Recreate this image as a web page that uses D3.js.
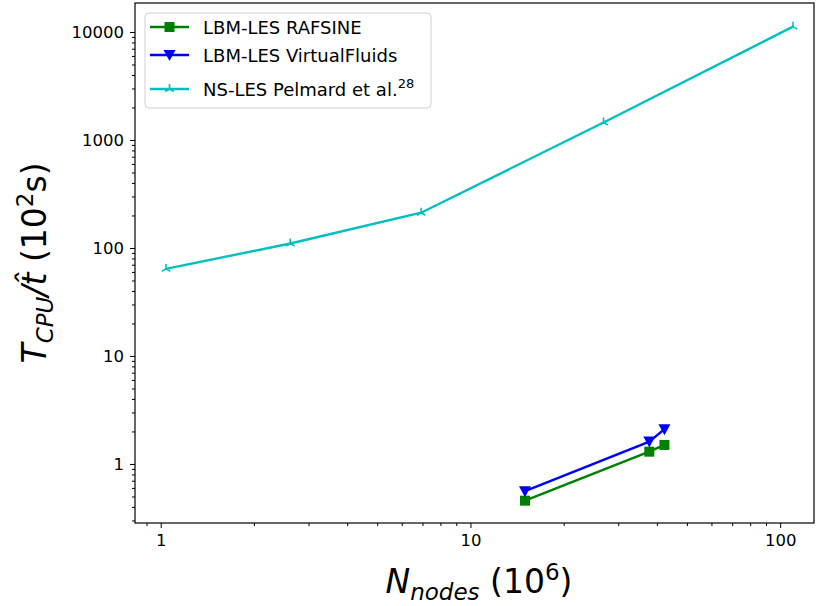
<!DOCTYPE html>
<html><head><meta charset="utf-8">
<script src="https://cdn.jsdelivr.net/npm/d3@7"></script>
<style>body{margin:0;background:#fff}svg{display:block}text{font-family:"DejaVu Sans",sans-serif}</style>
</head><body><svg id="c" width="816" height="606"></svg>
<script>
const seriesNames = ["LBM-LES RAFSINE", "LBM-LES VirtualFluids", "NS-LES Pelmard et al."];
const rafsineX = [15.0, 37.8, 42.3];
const rafsineY = [0.457, 1.30, 1.50];
const vfX = [15.0, 37.8, 42.3];
const vfY = [0.56, 1.61, 2.10];
const nsX = [1.04, 2.62, 6.93, 26.9, 110];
const nsY = [64, 110, 212, 1450, 11200];
const xTicks = [1, 10, 100];
const yTicks = [1, 10, 100, 1000, 10000];

const svg = d3.select("#c");
const L = 135, R = 814, T = 3, B = 523;
const x = d3.scaleLog().domain([0.826, 128.6]).range([L, R]);
const y = d3.scaleLog().domain([0.284, 18550]).range([B, T]);

function minorTicks(dom) {
  const out = [];
  for (let e = -2; e <= 5; e++) for (let k = 2; k <= 9; k++) {
    const v = k * Math.pow(10, e);
    if (v >= dom[0] && v <= dom[1]) out.push(v);
  }
  return out;
}

svg.append("g").attr("transform", `translate(0,${B})`)
  .call(d3.axisBottom(x).tickValues(minorTicks(x.domain())).tickSize(3).tickFormat(""))
  .call(g => g.select(".domain").remove());
svg.append("g").attr("transform", `translate(${L},0)`)
  .call(d3.axisLeft(y).tickValues(minorTicks(y.domain())).tickSize(3).tickFormat(""))
  .call(g => g.select(".domain").remove());
svg.append("g").attr("transform", `translate(0,${B})`)
  .call(d3.axisBottom(x).tickValues(xTicks).tickSize(5).tickPadding(6).tickFormat(d3.format("d")))
  .call(g => g.select(".domain").remove())
  .call(g => g.selectAll("text").attr("font-size", 16.5).attr("fill", "#000").attr("font-family", "DejaVu Sans"));
svg.append("g").attr("transform", `translate(${L},0)`)
  .call(d3.axisLeft(y).tickValues(yTicks).tickSize(5).tickPadding(6).tickFormat(d3.format("d")))
  .call(g => g.select(".domain").remove())
  .call(g => g.selectAll("text").attr("font-size", 16.5).attr("fill", "#000").attr("font-family", "DejaVu Sans"));
svg.selectAll(".tick line").attr("stroke", "#000").attr("stroke-width", 1);

svg.append("rect").attr("x", L).attr("y", T).attr("width", R - L).attr("height", B - T)
  .attr("fill", "none").attr("stroke", "#000").attr("stroke-width", 1.2);

const line = d3.line().x(d => x(d[0])).y(d => y(d[1]));
const plotG = svg.append("g");
function drawSeries(xs, ys, color, marker) {
  const pts = xs.map((v, i) => [v, ys[i]]);
  plotG.append("path").datum(pts).attr("d", line).attr("fill", "none")
    .attr("stroke", color).attr("stroke-width", 2.4);
  pts.forEach(p => drawMarker(plotG, x(p[0]), y(p[1]), color, marker));
}
function drawMarker(g, cx, cy, color, marker) {
  if (marker === "s") {
    g.append("rect").attr("x", cx - 5).attr("y", cy - 5).attr("width", 10).attr("height", 10).attr("fill", color);
  } else if (marker === "v") {
    g.append("path").attr("d", `M${cx - 6},${cy - 5}L${cx + 6},${cy - 5}L${cx},${cy + 6}Z`).attr("fill", color);
  } else {
    const r = 5;
    g.append("path").attr("d",
      `M${cx},${cy}L${cx},${cy - r}M${cx},${cy}L${cx - r * 0.866},${cy + r * 0.5}M${cx},${cy}L${cx + r * 0.866},${cy + r * 0.5}`)
      .attr("stroke", color).attr("stroke-width", 1.6).attr("fill", "none");
  }
}
drawSeries(nsX, nsY, "#00bfbf", "2");
drawSeries(rafsineX, rafsineY, "#008000", "s");
drawSeries(vfX, vfY, "#0000ff", "v");

const lg = svg.append("g");
lg.append("rect").attr("x", 145).attr("y", 13).attr("width", 286).attr("height", 95).attr("rx", 4)
  .attr("fill", "#fff").attr("fill-opacity", 0.8).attr("stroke", "#d0d0d0").attr("stroke-width", 1);
const legendItems = [
  {name: seriesNames[0], color: "#008000", marker: "s", yy: 27, sup: null},
  {name: seriesNames[1], color: "#0000ff", marker: "v", yy: 55, sup: null},
  {name: seriesNames[2], color: "#00bfbf", marker: "2", yy: 89, sup: "28"}
];
legendItems.forEach(it => {
  lg.append("line").attr("x1", 150).attr("x2", 189).attr("y1", it.yy).attr("y2", it.yy)
    .attr("stroke", it.color).attr("stroke-width", 2.4);
  drawMarker(lg, 169.5, it.yy, it.color, it.marker);
  const t = lg.append("text").attr("x", 203).attr("y", it.yy + 6.5).attr("font-size", 18).attr("fill", "#000").text(it.name);
  if (it.sup) t.append("tspan").attr("dy", -8).attr("font-size", 13).text(it.sup);
});

const xl = svg.append("text").attr("x", 479).attr("y", 593).attr("text-anchor", "middle")
  .attr("font-size", 33).attr("fill", "#000");
xl.append("tspan").attr("font-style", "italic").text("N");
xl.append("tspan").attr("font-style", "italic").attr("font-size", 23).attr("dy", 7).text("nodes");
xl.append("tspan").attr("dy", -7).text(" (10");
xl.append("tspan").attr("font-size", 23).attr("dy", -13).text("6");
xl.append("tspan").attr("dy", 13).text(")");

const yl = svg.append("text").attr("transform", `translate(46,${(T + B) / 2}) rotate(-90)`)
  .attr("text-anchor", "middle").attr("font-size", 33).attr("fill", "#000");
yl.append("tspan").attr("font-style", "italic").text("T");
yl.append("tspan").attr("font-style", "italic").attr("font-size", 23).attr("dy", 7).text("CPU");
yl.append("tspan").attr("dy", -7).attr("font-style", "italic").text("/t\u0302");
yl.append("tspan").text(" (10");
yl.append("tspan").attr("font-size", 23).attr("dy", -13).text("2");
yl.append("tspan").attr("dy", 13).text("s)");
</script></body></html>
